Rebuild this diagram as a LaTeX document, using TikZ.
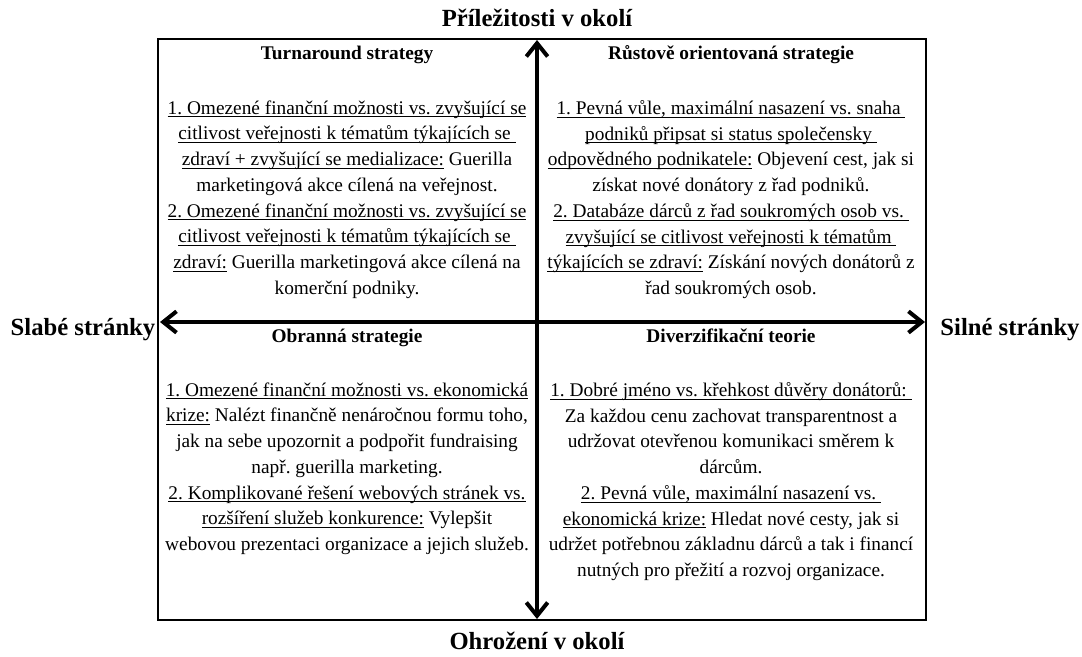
\documentclass[tikz,border=0pt]{standalone}
\usepackage{fontspec}
\setmainfont{Liberation Serif}
\usetikzlibrary{arrows.meta}

\newcommand{\ulin}[1]{\underline{\raisebox{0pt}[\height][0.4pt]{#1}}}

\tikzset{every picture/.style={line width=0.75pt}}
\tikzset{
  quadtitle/.style={anchor=base, inner sep=0.75pt, font=\fontsize{14.5}{19.3}\selectfont\bfseries},
  quadtext/.style={anchor=north, inner sep=0.75pt, align=center, font=\fontsize{14.5}{19.3}\selectfont\frenchspacing},
  axislabel/.style={inner sep=0.75pt, font=\fontsize{18.5}{22}\selectfont\bfseries},
  axis/.style={line width=3pt, {Straight Barb[length=10pt,width=16pt]}-{Straight Barb[length=10pt,width=16pt]}}
}

\begin{document}
\begin{tikzpicture}[x=0.75pt,y=0.75pt,yscale=-1,xscale=1]
        \useasboundingbox (0,0) rectangle (1082,657);

        %Shape: Rectangle [id:frame]
        \draw [line width=1.5pt] (158,39) rectangle (926,620);

        %Straight Lines [id:axes]
        \coordinate (top) at (537,40);
        \coordinate (bottom) at (537,619);
        \coordinate (weak) at (160,322);
        \coordinate (strong) at (925,322);
        \draw [axis] (bottom) -- (top);
        \draw [axis] (weak) -- (strong);

        % Text Node
        \node (opport) at (537,18) [axislabel] {Příležitosti v okolí};
        % Text Node
        \node (threat) at (537,641) [axislabel] {Ohrožení v okolí};
        % Text Node
        \node (weaklbl) at (83,330) [axislabel] {Slabé stránky};
        % Text Node
        \node (stronglbl) at (1010,330) [axislabel] {Silné stránky};

        % Text Node
        \node (turntitle) at (347,59) [quadtitle] {Turnaround strategy};
        % Text Node
        \node (turntext) at (347,99) [quadtext] {\ulin{1. Omezené finanční možnosti vs. zvyšující se}\\
          \ulin{citlivost veřejnosti k tématům týkajících se\ }\\
          \ulin{zdraví + zvyšující se medializace:} Guerilla\\
          marketingová akce cílená na veřejnost.\\
          \ulin{2. Omezené finanční možnosti vs. zvyšující se}\\
          \ulin{citlivost veřejnosti k tématům týkajících se\ }\\
          \ulin{zdraví:} Guerilla marketingová akce cílená na\\
          komerční podniky.};

        % Text Node
        \node (growtitle) at (731,59) [quadtitle] {Růstově orientovaná strategie};
        % Text Node
        \node (growtext) at (731,99) [quadtext] {\ulin{1. Pevná vůle, maximální nasazení vs. snaha\ }\\
          \ulin{podniků připsat si status společensky\ }\\
          \ulin{odpovědného podnikatele:} Objevení cest, jak si\\
          získat nové donátory z řad podniků.\\
          \ulin{2. Databáze dárců z řad soukromých osob vs.\ }\\
          \ulin{zvyšující se citlivost veřejnosti k tématům\ }\\
          \ulin{týkajících se zdraví:} Získání nových donátorů z\\
          řad soukromých osob.};

        % Text Node
        \node (deftitle) at (347,342) [quadtitle] {Obranná strategie};
        % Text Node
        \node (deftext) at (347,381) [quadtext] {\ulin{1. Omezené finanční možnosti vs. ekonomická}\\
          \ulin{krize:} Nalézt finančně nenáročnou formu toho,\\
          jak na sebe upozornit a podpořit fundraising\\
          např. guerilla marketing.\\
          \ulin{2. Komplikované řešení webových stránek vs.}\\
          \ulin{rozšíření služeb konkurence:} Vylepšit\\
          webovou prezentaci organizace a jejich služeb.};

        % Text Node
        \node (divtitle) at (731,342) [quadtitle] {Diverzifikační teorie};
        % Text Node
        \node (divtext) at (731,381) [quadtext] {\ulin{1. Dobré jméno vs. křehkost důvěry donátorů:\ }\\
          Za každou cenu zachovat transparentnost a\\
          udržovat otevřenou komunikaci směrem k\\
          dárcům.\\
          \ulin{2. Pevná vůle, maximální nasazení vs.\ }\\
          \ulin{ekonomická krize:} Hledat nové cesty, jak si\\
          udržet potřebnou základnu dárců a tak i financí\\
          nutných pro přežití a rozvoj organizace.};
\end{tikzpicture}
\end{document}
